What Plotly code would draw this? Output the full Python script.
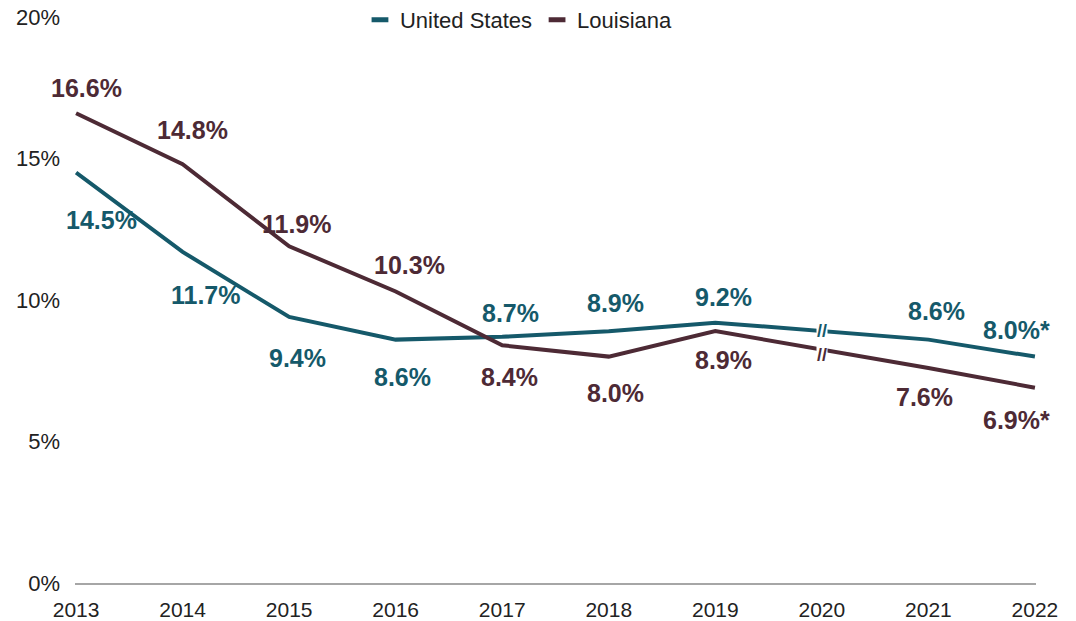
import plotly.graph_objects as go

# Rates by year; 2020 has no published estimate (break shown on the lines)
years = [2013, 2014, 2015, 2016, 2017, 2018, 2019, 2020, 2021, 2022]
us_rate = [14.5, 11.7, 9.4, 8.6, 8.7, 8.9, 9.2, None, 8.6, 8.0]
la_rate = [16.6, 14.8, 11.9, 10.3, 8.4, 8.0, 8.9, None, 7.6, 6.9]
flagged_years = [2022]
y_ticks = [0, 5, 10, 15, 20]
gap_year = 2020

US_COLOR = "#15596a"
LA_COLOR = "#4d2a35"
FONT = "Liberation Sans, Arial, sans-serif"

# label offsets in pixels (dx, dy; dy positive = downward)
us_offsets = [(25, 47), (23, 43), (8, 41), (7, 37), (8, -24), (7, -28), (8, -26), None, (8, -29), (-18, -27)]
la_offsets = [(10, -25), (10, -34), (8, -22), (14, -27), (7, 32), (7, 36), (8, 29), None, (-4, 29), (-18, 32)]
# vertical nudge of the break marks (px, positive = up)
break_shift = {"United States": 0, "Louisiana": -5}

fig = go.Figure()

for name, vals, color in [("United States", us_rate, US_COLOR), ("Louisiana", la_rate, LA_COLOR)]:
    fig.add_trace(go.Scatter(
        x=years, y=vals, mode="lines", name=name, connectgaps=True,
        line=dict(color=color, width=4), showlegend=False, hoverinfo="skip",
    ))
    # legend entry drawn as a short thick dash
    fig.add_trace(go.Scatter(
        x=[None], y=[None], mode="markers", name=name,
        marker=dict(symbol="line-ew", size=12, line=dict(color=color, width=5)),
    ))

annotations = []
for name, vals, offs, color in [("United States", us_rate, us_offsets, US_COLOR),
                                ("Louisiana", la_rate, la_offsets, LA_COLOR)]:
    for yr, v, off in zip(years, vals, offs):
        if v is None:
            continue
        text = f"{v:.1f}%" + ("*" if yr in flagged_years else "")
        annotations.append(dict(
            x=yr, y=v, text=f"<b>{text}</b>", showarrow=False,
            xshift=off[0], yshift=-off[1],
            font=dict(family=FONT, size=25, color=color),
        ))
    # break marks where the year has no estimate
    i = years.index(gap_year)
    y_mid = (vals[i - 1] + vals[i + 1]) / 2
    annotations.append(dict(
        x=gap_year, y=y_mid, text="<b>//</b>", showarrow=False,
        yshift=break_shift[name],
        font=dict(family=FONT, size=18, color=color),
        bgcolor="white", borderpad=0,
    ))

fig.update_layout(
    width=1076, height=621,
    margin=dict(l=75, r=40, t=17, b=38, autoexpand=False),
    paper_bgcolor="white", plot_bgcolor="white",
    font=dict(family=FONT, color="#222222"),
    annotations=annotations,
    legend=dict(
        orientation="h", x=0.462, xanchor="center", y=0.995, yanchor="middle",
        font=dict(family=FONT, size=22, color="#222222"),
        bgcolor="rgba(0,0,0,0)", itemclick=False,
    ),
    xaxis=dict(
        range=[2012.99, 2022.01], tickvals=years, ticktext=[str(y) for y in years],
        showgrid=False, zeroline=False, showline=True, linecolor="#a6a6a6", linewidth=2,
        ticks="", tickfont=dict(family=FONT, size=21, color="#222222"),
        ticklabelstandoff=7, automargin=False, fixedrange=True,
    ),
    yaxis=dict(
        range=[0, 20], tickvals=y_ticks, ticktext=[f"{t}%" for t in y_ticks],
        showgrid=False, zeroline=False, showline=False, ticks="",
        tickfont=dict(family=FONT, size=22, color="#222222"),
        ticklabelstandoff=14, automargin=False, fixedrange=True,
    ),
    showlegend=True,
)

fig.write_html("out.html")
